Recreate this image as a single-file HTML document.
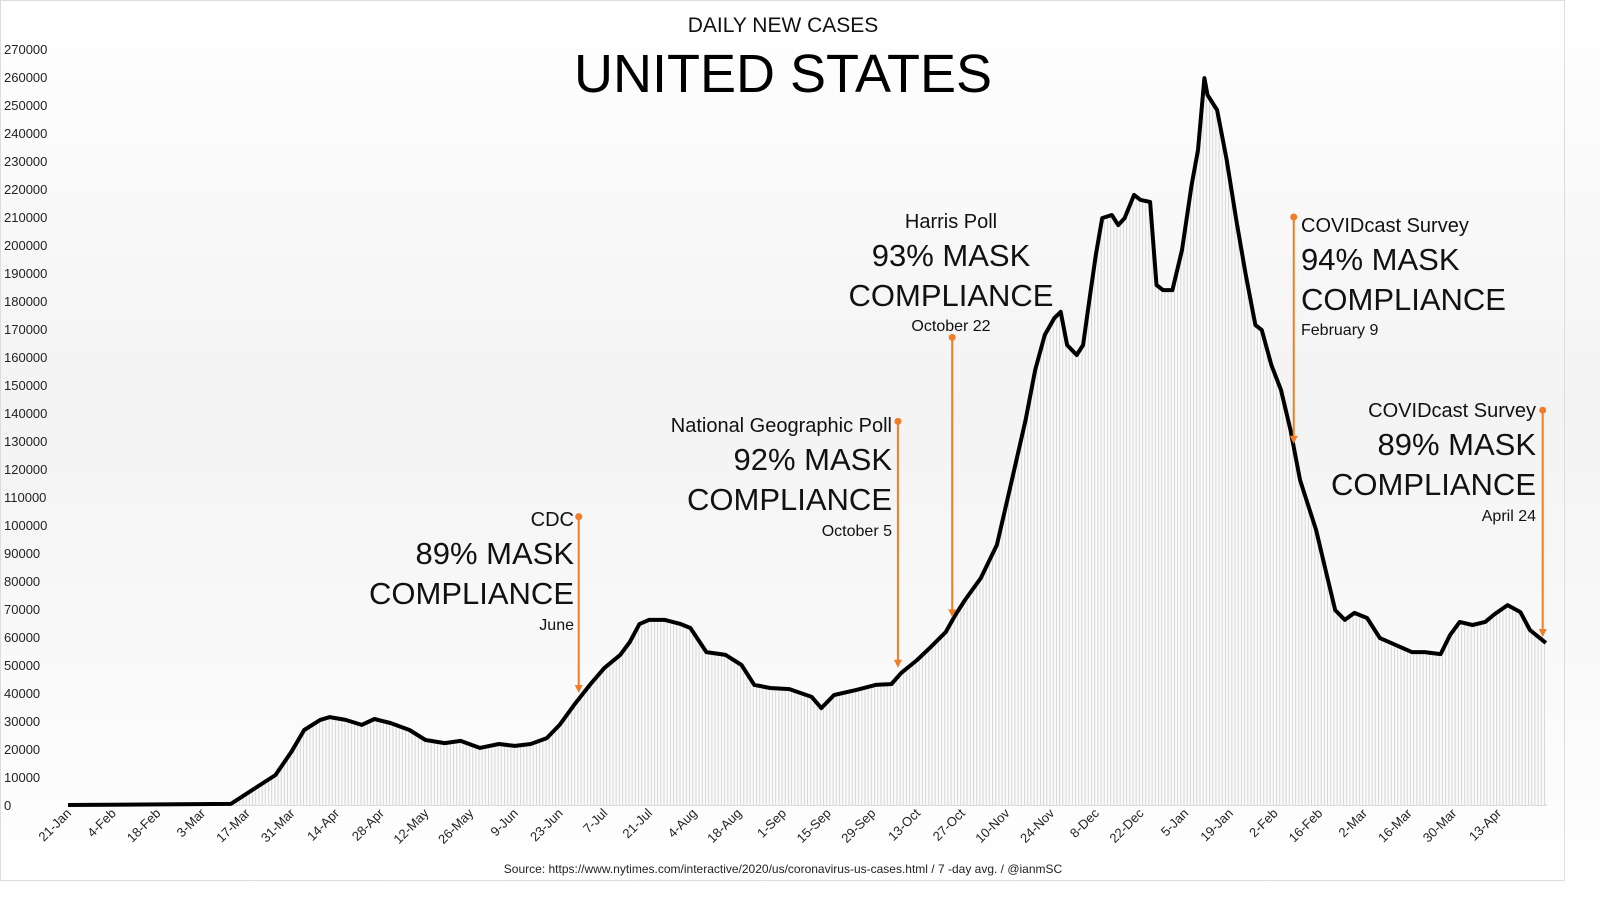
<!DOCTYPE html>
<html><head><meta charset="utf-8"><style>
html,body{margin:0;padding:0;width:1600px;height:901px;overflow:hidden;background:#fff;}
svg{display:block;font-family:"Liberation Sans","DejaVu Sans",sans-serif;}
</style></head><body>
<svg id="c" width="1600" height="901" viewBox="0 0 1600 901">
<defs>
<linearGradient id="bg" x1="0" y1="0" x2="0" y2="1"><stop offset="0" stop-color="#ffffff"/><stop offset="0.45" stop-color="#f3f3f3"/><stop offset="1" stop-color="#ffffff"/></linearGradient>
<pattern id="vl" width="3.19" height="10" patternUnits="userSpaceOnUse"><rect width="3.19" height="10" fill="#fbfbfb"/><rect width="1" height="10" fill="#d6d6d6"/></pattern>
</defs>
<rect x="0" y="0" width="1600" height="901" fill="url(#bg)"/>
<rect x="0.5" y="0.5" width="1564" height="880" fill="none" stroke="#ddd"/>
<text x="783" y="32" text-anchor="middle" font-size="21" fill="#111">DAILY NEW CASES</text>
<text x="783" y="92" text-anchor="middle" font-size="54" fill="#000">UNITED STATES</text>
<g id="yaxis"></g>
<g id="xaxis"></g>
<g id="plot"></g>
<g id="ann"></g>
<text x="783" y="873" text-anchor="middle" font-size="12" fill="#222">Source: https://www.nytimes.com/interactive/2020/us/coronavirus-us-cases.html / 7 -day avg. / @ianmSC</text>
</svg>
<script>
const days=[0,51,65,70,74,79,82,87,92,96,101,107,112,118,123,129,135,140,145,150,154,159,164,168,173,176,179,182,187,192,195,200,206,211,215,220,226,233,236,240,247,253,258,261,266,270,275,278,281,286,291,295,300,303,306,309,311,313,316,318,320,322,324,327,329,331,334,336,339,341,343,346,349,352,354,356,357,360,363,366,369,372,374,377,380,383,386,391,394,397,400,403,407,411,416,421,425,430,433,436,440,444,447,451,455,458,463];
const cases=[0,400,10700,19000,26800,30400,31400,30400,28600,30700,29300,26800,23200,22100,22900,20400,21800,21100,21800,23900,28600,36400,43600,48900,53600,58200,64600,66100,66100,64600,63200,54600,53600,50000,42900,41800,41400,38600,34600,39300,41100,42900,43200,47100,51800,56100,61800,67900,73200,81100,92900,112500,137500,155400,167900,173900,176100,164300,160700,164300,180400,196400,209600,210700,207100,209600,217900,216100,215400,185700,183900,183900,198200,221400,233900,259600,253600,248200,230400,208900,189300,171400,169600,157100,148200,133900,116000,98200,83900,69600,66100,68600,66800,59600,57100,54600,54600,53900,60700,65400,64300,65400,68200,71400,68900,62500,57900];
const xLabels=["21-Jan","4-Feb","18-Feb","3-Mar","17-Mar","31-Mar","14-Apr","28-Apr","12-May","26-May","9-Jun","23-Jun","7-Jul","21-Jul","4-Aug","18-Aug","1-Sep","15-Sep","29-Sep","13-Oct","27-Oct","10-Nov","24-Nov","8-Dec","22-Dec","5-Jan","19-Jan","2-Feb","16-Feb","2-Mar","16-Mar","30-Mar","13-Apr"];
const yTicks=[0,10000,20000,30000,40000,50000,60000,70000,80000,90000,100000,110000,120000,130000,140000,150000,160000,170000,180000,190000,200000,210000,220000,230000,240000,250000,260000,270000];
const annDays=[160,260,277,384,462];
const annTop=[103000,137000,167000,210000,141000];
const annBottom=[40000,49000,67000,129000,60000];
const NS="http://www.w3.org/2000/svg";
const X=d=>68+d*3.192, Y=v=>805-v*28/10000;
function mk(t,a,p){const e=document.createElementNS(NS,t);for(const k in a)e.setAttribute(k,a[k]);p.appendChild(e);return e;}
const ya=document.getElementById('yaxis');
yTicks.forEach(v=>{const t=mk('text',{x:4,y:Y(v)+5,'font-size':13,fill:'#222'},ya);t.textContent=v;

});
const xa=document.getElementById('xaxis');
mk('line',{x1:68,y1:805,x2:1547,y2:805,stroke:'#bbb'},xa);
xLabels.forEach((l,i)=>{const x=X(i*14);const t=mk('text',{x:x+4,y:814,'font-size':13,fill:'#222','text-anchor':'end',transform:`rotate(-45 ${x+4} 814)`},xa);t.textContent=l;

});
const pl=document.getElementById('plot');
let d='M'+X(days[0])+' '+Y(cases[0]);for(let i=1;i<days.length;i++)d+=' L'+X(days[i]).toFixed(1)+' '+Y(cases[i]).toFixed(1);
const area=mk('path',{d:d+` L${X(days[days.length-1])} 805 L${X(0)} 805 Z`,fill:'url(#vl)'},pl);


const line=mk('path',{d:d,fill:'none',stroke:'#000','stroke-width':4,'stroke-linejoin':'round'},pl);


const an=document.getElementById('ann');
annDays.forEach((dd,i)=>{const x=X(dd),y1=Y(annTop[i]),y2=Y(annBottom[i]);
const g=mk('g',{},an);


mk('line',{x1:x,y1:y1,x2:x,y2:y2-4,stroke:'#f07d28','stroke-width':2},g);
mk('circle',{cx:x,cy:y1,r:3.5,fill:'#f07d28'},g);
mk('path',{d:`M${x-4} ${y2-8} L${x} ${y2} L${x+4} ${y2-8} Z`,fill:'#f07d28'},g);});
const texts=[
[574,526,'end',20,'CDC'],[574,564,'end',31,'89% MASK'],[574,604,'end',31,'COMPLIANCE'],[574,630,'end',16,'June'],
[892,432,'end',20,'National Geographic Poll'],[892,470,'end',31,'92% MASK'],[892,510,'end',31,'COMPLIANCE'],[892,536,'end',16,'October 5'],
[951,228,'middle',20,'Harris Poll'],[951,266,'middle',31,'93% MASK'],[951,306,'middle',31,'COMPLIANCE'],[951,331,'middle',16,'October 22'],
[1301,232,'start',20,'COVIDcast Survey'],[1301,270,'start',31,'94% MASK'],[1301,310,'start',31,'COMPLIANCE'],[1301,335,'start',16,'February 9'],
[1536,417,'end',20,'COVIDcast Survey'],[1536,455,'end',31,'89% MASK'],[1536,495,'end',31,'COMPLIANCE'],[1536,521,'end',16,'April 24']];
texts.forEach(t=>{const e=mk('text',{x:t[0],y:t[1],'text-anchor':t[2],'font-size':t[3],fill:'#111'},an);e.textContent=t[4];

});
</script>
</body></html>
